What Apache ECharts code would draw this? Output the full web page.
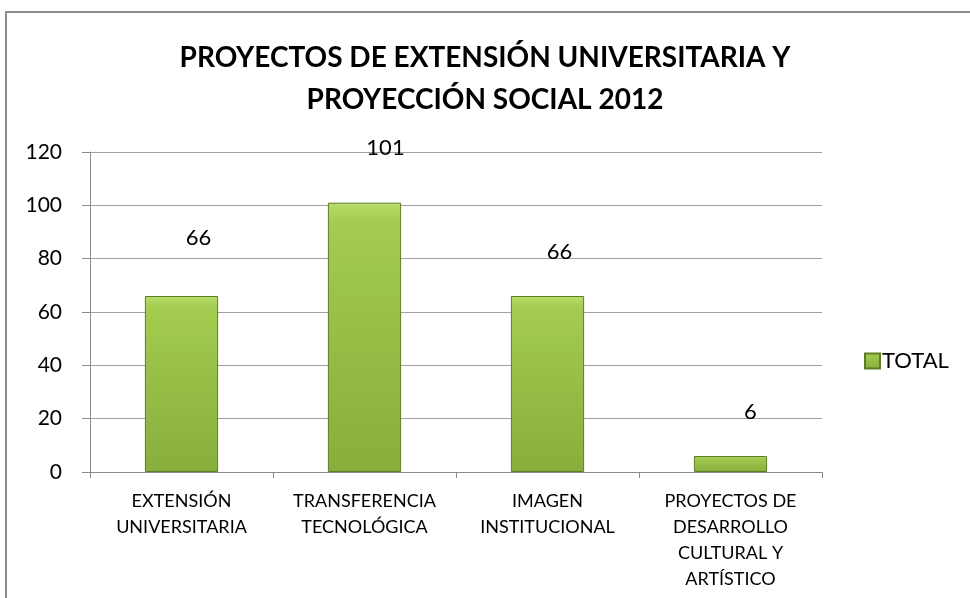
<!DOCTYPE html>
<html>
<head>
<meta charset="utf-8">
<script src="https://cdn.jsdelivr.net/npm/echarts@6/dist/echarts.min.js"></script>
<style>
  html, body { margin: 0; padding: 0; background: #fff; }
  #chart { width: 970px; height: 598px; }
</style>
</head>
<body>
<div id="chart"></div>
<script>
// Project counts by area, 2012
const categories = [
  'EXTENSIÓN\nUNIVERSITARIA',
  'TRANSFERENCIA\nTECNOLÓGICA',
  'IMAGEN\nINSTITUCIONAL',
  'PROYECTOS DE\nDESARROLLO\nCULTURAL Y\nARTÍSTICO'
];
const totals = [66, 101, 66, 6];
const seriesName = 'TOTAL';
const titleText = 'PROYECTOS DE EXTENSIÓN UNIVERSITARIA Y\nPROYECCIÓN SOCIAL 2012';

// Hand-placed value label nudges (dx, dy) for each bar
const labelNudges = [[17, -47], [21, -44], [12, -33], [20, -33]];

const FONT = 'Lato';

const barFill = new echarts.graphic.LinearGradient(0, 0, 0, 1, [
  { offset: 0, color: '#b8dc6a' },
  { offset: 0.07, color: '#a3cc50' },
  { offset: 1, color: '#88ae3c' }
]);

const chart = echarts.init(document.getElementById('chart'), null, { renderer: 'canvas' });

chart.setOption({
  animation: false,
  backgroundColor: '#ffffff',
  title: {
    text: titleText,
    left: 'center',
    top: 32,
    textStyle: {
      fontFamily: FONT,
      fontWeight: 'bold',
      fontSize: 28,
      lineHeight: 42,
      color: '#000'
    }
  },
  graphic: [{
    type: 'rect',
    shape: { x: 6, y: 12, width: 1000, height: 700 },
    style: { fill: 'none', stroke: '#8c8c8c', lineWidth: 2 },
    silent: true,
    z: -1
  }],
  legend: {
    left: 864,
    top: 350,
    padding: 0,
    itemWidth: 15,
    itemHeight: 15,
    itemGap: 8,
    icon: 'rect',
    textStyle: { fontFamily: FONT, fontSize: 22, color: '#000', padding: [0, 0, 0, -3] },
    data: [seriesName]
  },
  grid: { left: 90, right: 148, top: 152, bottom: 126, containLabel: false },
  xAxis: {
    type: 'category',
    data: categories,
    axisLine: { lineStyle: { color: '#8a8a8a', width: 1 } },
    axisTick: { show: true, length: 6, lineStyle: { color: '#8a8a8a' } },
    axisLabel: {
      fontFamily: FONT,
      fontSize: 18,
      lineHeight: 26,
      color: '#000',
      margin: 16,
      interval: 0
    }
  },
  yAxis: {
    type: 'value',
    min: 0,
    max: 120,
    interval: 20,
    axisLine: { show: true, lineStyle: { color: '#8a8a8a', width: 1 } },
    axisTick: { show: true, inside: false, length: 8, lineStyle: { color: '#8a8a8a' } },
    splitLine: { lineStyle: { color: '#a0a0a0', width: 1 } },
    axisLabel: {
      fontFamily: FONT,
      fontSize: 21,
      color: '#000',
      margin: 28
    }
  },
  series: [{
    name: seriesName,
    type: 'bar',
    barWidth: '40%',
    itemStyle: {
      color: barFill,
      borderColor: '#5f7d27',
      borderWidth: 1
    },
    data: totals.map((v, i) => ({
      value: v,
      label: { offset: labelNudges[i] }
    })),
    label: {
      show: true,
      position: 'top',
      distance: 0,
      fontFamily: FONT,
      fontSize: 22,
      color: '#000'
    }
  }]
});
</script>
</body>
</html>
